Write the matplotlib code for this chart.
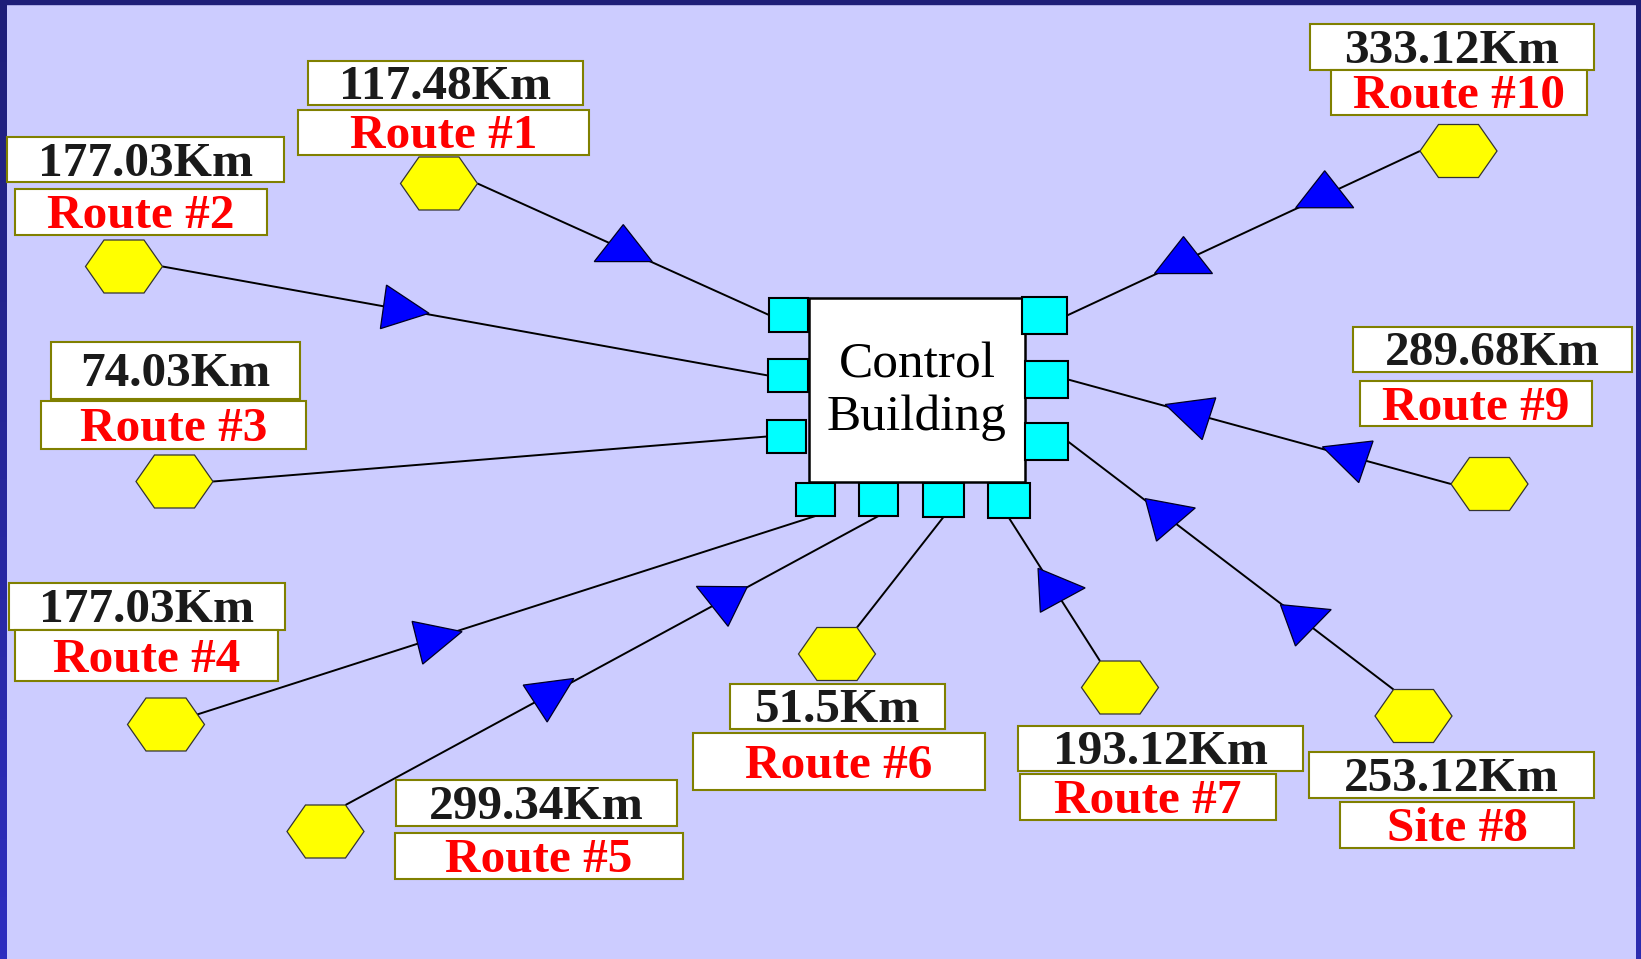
import numpy as np
import matplotlib.pyplot as plt
from matplotlib.patches import Rectangle, Polygon
from matplotlib.colors import to_rgb

W, H = 1641, 959

# ---- data -------------------------------------------------------------
route_names = ['Route #1', 'Route #2', 'Route #3', 'Route #4', 'Route #5',
               'Route #6', 'Route #7', 'Site #8', 'Route #9', 'Route #10']
distances_km = [117.48, 177.03, 74.03, 177.03, 299.34,
                51.5, 193.12, 253.12, 289.68, 333.12]

# remote sites (hexagon centres, pixel coords, y down)
site_x = [439, 124, 174.5, 166, 325.5, 837, 1120, 1413.5, 1489.5, 1458.5]
site_y = [183.5, 266.5, 481.5, 724.5, 831.5, 654, 687.5, 716, 484, 151]
site_anchor = ['r', 'r', 'r', 'c', 'tr', 'tr', 'tl', 'tl', 'l', 'l']

# ports around the control building
port_x0 = [769, 768, 767, 796, 859, 923, 988, 1022, 1025, 1025]
port_y0 = [298, 359, 420, 483, 483, 483, 483, 297, 361, 423]
port_x1 = [808, 808, 806, 835, 898, 964, 1030, 1067, 1068, 1068]
port_y1 = [332, 392, 453, 516, 516, 517, 518, 334, 398, 460]
port_side = ['l', 'l', 'l', 'b', 'b', 'b', 'b', 'r', 'r', 'r']
route_port = [0, 1, 2, 3, 4, 5, 6, 9, 8, 7]

# label boxes (x0, y0, x1, y1)
km_box = [(308, 61, 583, 105), (7, 137, 284, 182), (51, 342, 300, 399),
          (9, 583, 285, 630), (396, 780, 677, 826), (730, 684, 945, 729),
          (1018, 726, 1303, 771), (1309, 752, 1594, 798),
          (1353, 326.5, 1632, 371.5), (1310, 24, 1594, 70)]
name_box = [(298, 110, 589, 155), (15, 189, 267, 235), (41, 401, 306, 449),
            (15, 630, 278, 681), (395, 833, 683, 879), (693, 733, 985, 790),
            (1020, 774, 1276, 820), (1340, 802, 1574, 848),
            (1359.5, 381, 1592, 426), (1331, 70, 1587, 115)]

# direction markers on the links
arrow_route = [0, 1, 3, 4, 4, 6, 7, 7, 8, 8, 9, 9]
arrow_t = [0.50, 0.39, 0.41, 0.38, 0.71, 0.50, 0.70, 0.28, 0.67, 0.26, 0.67, 0.27]
arrow_angle = [0, 98, 76, 57, -64, 87, 75, 70, -72, -71, 0, 0]
arrow_flat = [True, False, False, False, False, False, False, False,
              False, False, True, True]

building = (809, 298, 1025, 482)

# ---- figure -------------------------------------------------------------
fig = plt.figure(figsize=(W / 100, H / 100), dpi=100, facecolor='#ccccff')
ax = fig.add_axes([0, 0, 1, 1])
ax.set_xlim(0, W)
ax.set_ylim(H, 0)
ax.axis('off')

# frame
def band(x0, x1, c_top, c_bot):
    a, b = np.array(to_rgb(c_top)), np.array(to_rgb(c_bot))
    g = np.linspace(0, 1, 200)[:, None, None]
    img = a + (b - a) * g
    ax.imshow(img, extent=(x0, x1, H, 0), aspect='auto', zorder=0)

band(0, 7, '#1e1e78', '#2e2ec0')
band(1636, W, '#1e1e78', '#2c2cb0')
ax.add_patch(Rectangle((0, 0), W, 4, color='#1e1e78', zorder=0.5))
ax.set_xlim(0, W)
ax.set_ylim(H, 0)

HW, HH, HA = 77, 53, 20


def site_point(i):
    cx, cy = site_x[i], site_y[i]
    return {'r': (cx + HW / 2, cy), 'l': (cx - HW / 2, cy),
            'tr': (cx + HA, cy - HH / 2), 'tl': (cx - HA, cy - HH / 2),
            'c': (cx, cy)}[site_anchor[i]]


def port_point(j):
    my = (port_y0[j] + port_y1[j]) / 2
    mx = (port_x0[j] + port_x1[j]) / 2
    return {'l': (port_x0[j], my), 'r': (port_x1[j], my),
            'b': (mx, port_y1[j])}[port_side[j]]


# links
for i in range(len(route_names)):
    (x0, y0), (x1, y1) = site_point(i), port_point(route_port[i])
    ax.plot([x0, x1], [y0, y1], color='black', lw=1.4, zorder=1,
            solid_capstyle='butt')

# hexagons
for i in range(len(route_names)):
    cx, cy = site_x[i], site_y[i]
    pts = [(cx - HW / 2, cy), (cx - HA, cy - HH / 2), (cx + HA, cy - HH / 2),
           (cx + HW / 2, cy), (cx + HA, cy + HH / 2), (cx - HA, cy + HH / 2)]
    ax.add_patch(Polygon(pts, closed=True, fc='#ffff00', ec='#333333',
                         lw=0.9, zorder=2))

# building and ports
serif = ['Liberation Serif', 'DejaVu Serif']
bx0, by0, bx1, by1 = building
ax.add_patch(Rectangle((bx0, by0), bx1 - bx0, by1 - by0, fc='white',
                       ec='black', lw=1.8, zorder=2))
for j in range(len(port_x0)):
    ax.add_patch(Rectangle((port_x0[j], port_y0[j]), port_x1[j] - port_x0[j],
                           port_y1[j] - port_y0[j], fc='#00ffff',
                           ec='black', lw=1.5, zorder=3))
ax.text((bx0 + bx1) / 2, 378, 'Control', ha='center', va='baseline',
        fontsize=37, family=serif, zorder=4)
ax.text((bx0 + bx1) / 2, 430, 'Building', ha='center', va='baseline',
        fontsize=37, family=serif, zorder=4)

# triangles
for k in range(len(arrow_route)):
    i = arrow_route[k]
    (x0, y0), (x1, y1) = site_point(i), port_point(route_port[i])
    t = arrow_t[k]
    cx, cy = x0 + t * (x1 - x0), y0 + t * (y1 - y0)
    b, h = (58, 37) if arrow_flat[k] else (44, 46)
    local = np.array([(0, -2 * h / 3), (b / 2, h / 3), (-b / 2, h / 3)])
    a = np.radians(arrow_angle[k])
    rx = local[:, 0] * np.cos(a) - local[:, 1] * np.sin(a) + cx
    ry = local[:, 0] * np.sin(a) + local[:, 1] * np.cos(a) + cy
    ax.add_patch(Polygon(np.column_stack([rx, ry]), closed=True,
                         fc='#0000ff', ec='#000022', lw=0.9, zorder=3))

# labels
for i in range(len(route_names)):
    for box, txt, col in ((km_box[i], f'{distances_km[i]}Km', '#1a1a1a'),
                          (name_box[i], route_names[i], '#ff0000')):
        x0, y0, x1, y1 = box
        ax.add_patch(Rectangle((x0, y0), x1 - x0, y1 - y0, fc='white',
                               ec='#808000', lw=1.5, zorder=5))
        ax.text((x0 + x1) / 2, (y0 + y1) / 2 + 16, txt, ha='center',
                va='baseline', fontsize=35.5, fontweight='bold', color=col,
                family=serif, zorder=6)

fig.savefig('out.png', dpi=100, facecolor=fig.get_facecolor())
